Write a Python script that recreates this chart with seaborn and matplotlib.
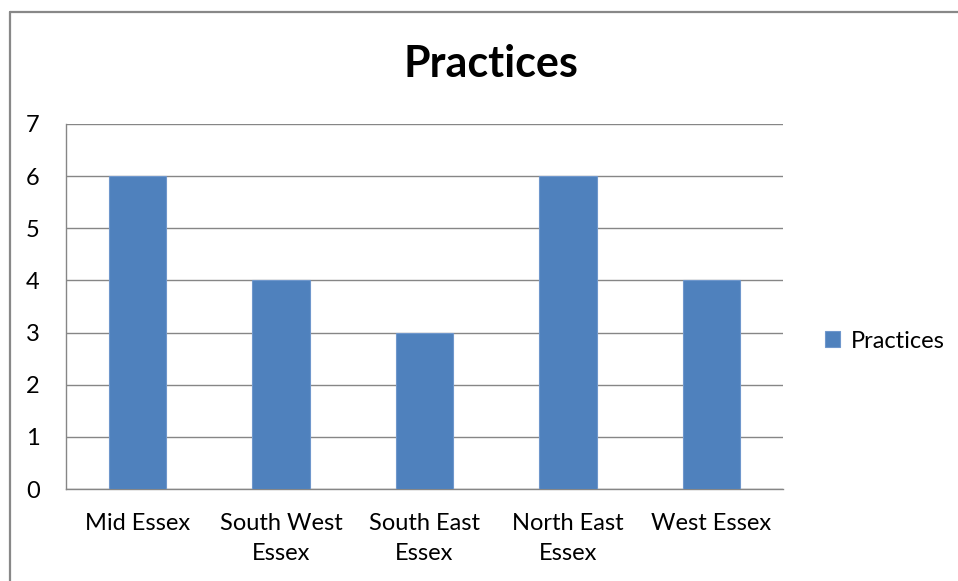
import matplotlib
matplotlib.use("Agg")
import matplotlib.pyplot as plt
from matplotlib.lines import Line2D
from matplotlib.patches import Patch
import seaborn as sns
import pandas as pd

# Practice counts per locality
categories = ["Mid Essex", "South West\nEssex", "South East\nEssex", "North East\nEssex", "West Essex"]
practices = [6, 4, 3, 6, 4]
y_ticks = [0, 1, 2, 3, 4, 5, 6, 7]
series_name = "Practices"

df = pd.DataFrame({"area": categories, "count": practices})

sns.set_style("white")
plt.rcParams["font.family"] = ["Lato", "DejaVu Sans"]
plt.rcParams["text.color"] = "black"
plt.rcParams["xtick.color"] = "black"
plt.rcParams["ytick.color"] = "black"

bar_color = "#4f81bd"
grid_color = "#868686"

fig = plt.figure(figsize=(9.58, 5.81), dpi=100)
ax = fig.add_axes([66 / 958, 1 - 489 / 581, (783 - 66) / 958, (489 - 124) / 581])

sns.barplot(data=df, x="area", y="count", color=bar_color, width=0.4,
            saturation=1, edgecolor="#6f97cc", linewidth=0.8, ax=ax, zorder=3)

ax.set_ylim(0, 7)
ax.set_xlim(-0.5, len(categories) - 0.5)
ax.set_yticks(y_ticks)
ax.set_xlabel("")
ax.set_ylabel("")

ax.grid(axis="y", color=grid_color, linewidth=1.0, zorder=0)
ax.set_axisbelow(True)
for side in ["top", "right"]:
    ax.spines[side].set_visible(False)
for side in ["left", "bottom"]:
    ax.spines[side].set_color(grid_color)
    ax.spines[side].set_linewidth(1.0)

# category boundary ticks on the x axis
ax.set_xticks([i - 0.5 for i in range(len(categories) + 1)], minor=True)
ax.tick_params(axis="x", which="minor", length=6, color=grid_color, width=1.0)
ax.tick_params(axis="x", which="major", length=0, pad=17, labelsize=17,
               labelcolor="black")
ax.tick_params(axis="y", which="major", length=7, color=grid_color, width=1.0,
               pad=12, labelsize=17, labelcolor="black")
for lbl in ax.get_xticklabels():
    lbl.set_linespacing(1.55)
    lbl.set_verticalalignment("top")

fig.text(491 / 958, 1 - 64 / 581, series_name, ha="center", va="center",
         fontsize=31, fontweight="bold", color="black")

handle = Patch(facecolor=bar_color, edgecolor="#6f97cc", linewidth=0.8)
leg = fig.legend([handle], [series_name], loc="center left",
                 bbox_to_anchor=(818 / 958, 1 - 341 / 581), frameon=False,
                 fontsize=17, handlelength=0.65, handleheight=0.65,
                 handletextpad=0.45, borderaxespad=0, borderpad=0.3)
for t in leg.get_texts():
    t.set_color("black")

# chart frame running off the right and bottom edges
fig.add_artist(Line2D([10 / 958, 1.0], [1 - 12 / 581, 1 - 12 / 581],
                      transform=fig.transFigure, color="#888888", linewidth=1.6))
fig.add_artist(Line2D([10 / 958, 10 / 958], [1 - 12 / 581, 0.0],
                      transform=fig.transFigure, color="#888888", linewidth=1.6))

fig.savefig("out.png", dpi=100, facecolor="white")
